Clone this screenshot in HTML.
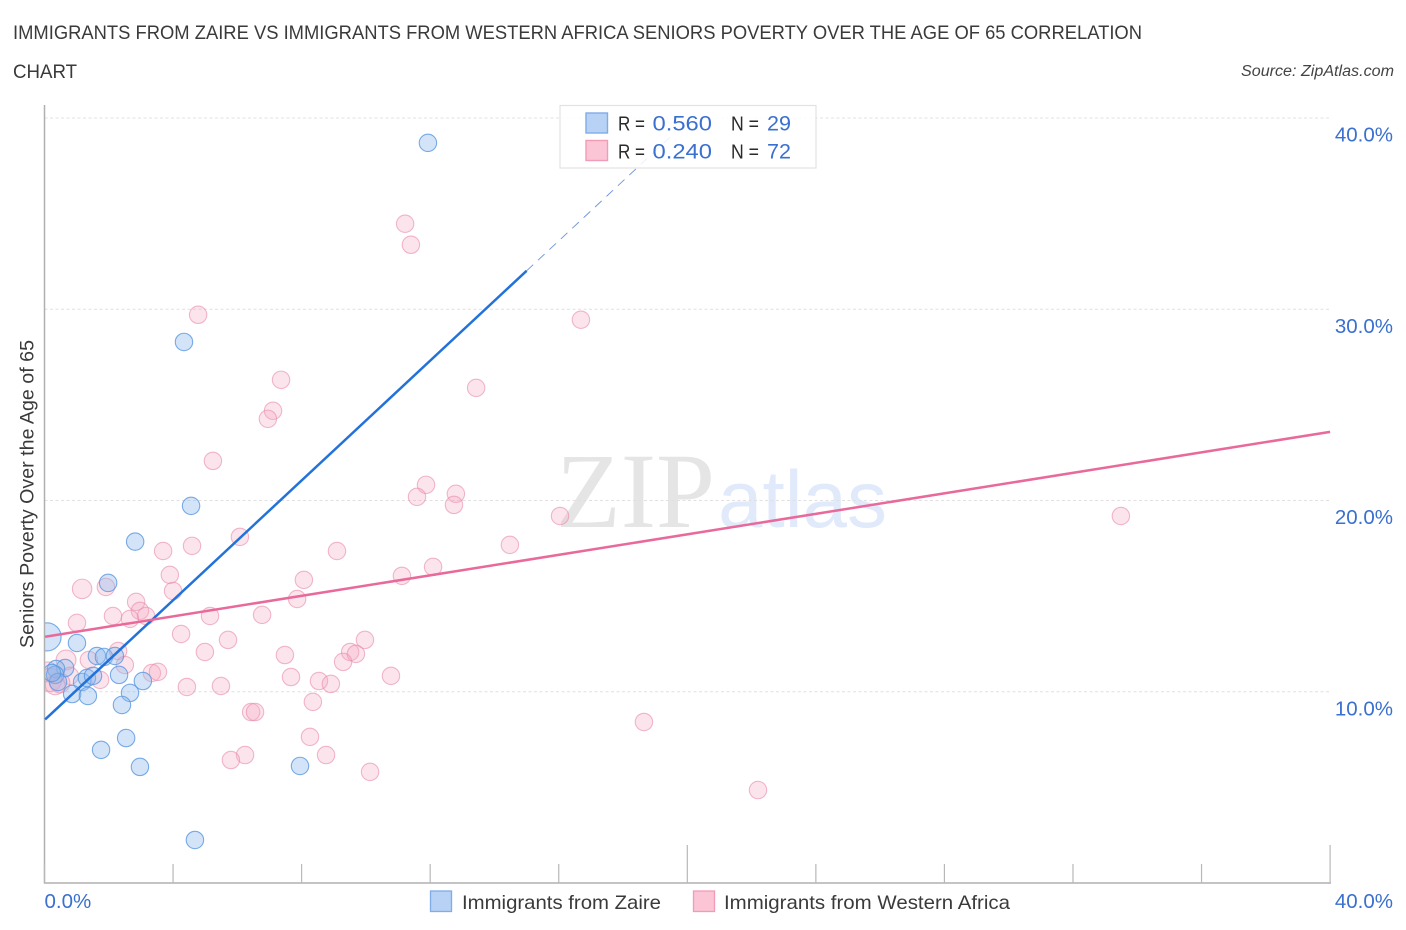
<!DOCTYPE html>
<html lang="en">
<head>
<meta charset="utf-8">
<title>Immigrants from Zaire vs Immigrants from Western Africa Seniors Poverty Correlation Chart</title>
<style>
html,body{margin:0;padding:0;background:#fff;width:1406px;height:930px;overflow:hidden}
svg{display:block;font-family:"Liberation Sans",sans-serif}
</style>
</head>
<body>
<svg id="chart" width="1406" height="930" viewBox="0 0 1406 930" xmlns="http://www.w3.org/2000/svg">
  <defs>
    <clipPath id="plot-clip"><rect x="44.5" y="100" width="1300" height="783"/></clipPath>
  </defs>
  <text x="13" y="39" font-size="19.5" fill="#3a3a3a" textLength="1129" lengthAdjust="spacingAndGlyphs">IMMIGRANTS FROM ZAIRE VS IMMIGRANTS FROM WESTERN AFRICA SENIORS POVERTY OVER THE AGE OF 65 CORRELATION</text>
  <text x="13" y="78" font-size="19.5" fill="#3a3a3a" textLength="64" lengthAdjust="spacingAndGlyphs">CHART</text>
  <text x="1241" y="76" font-size="15.5" font-style="italic" fill="#444" textLength="153" lengthAdjust="spacingAndGlyphs">Source: ZipAtlas.com</text>

  <g>
    <text x="556" y="527" font-family="'Liberation Serif',serif" font-size="107" fill="#e5e5e5" textLength="159" lengthAdjust="spacingAndGlyphs">ZIP</text>
    <text x="718" y="527" font-size="81" fill="#e0eafa" textLength="169" lengthAdjust="spacingAndGlyphs">atlas</text>
  </g>

  <g id="grid"></g>
  <g id="points-africa" clip-path="url(#plot-clip)"></g>
  <g id="points-zaire" clip-path="url(#plot-clip)"></g>
  <g id="axes"></g>
  <g id="trends"></g>

  <text transform="translate(33.5 494) rotate(-90)" font-size="19.5" fill="#3a3a3a" text-anchor="middle" textLength="308" lengthAdjust="spacingAndGlyphs">Seniors Poverty Over the Age of 65</text>

  <g>
    <rect x="560" y="105.5" width="256" height="62.5" fill="#fff" fill-opacity="0.86" stroke="#e2e2e2" stroke-width="1.2"/>
    <rect x="586" y="113" width="21.5" height="20" fill="#b7d2f5" stroke="#80ace8" stroke-width="1.4"/>
    <rect x="586" y="140.5" width="21.5" height="20" fill="#fcc5d6" stroke="#f29bb7" stroke-width="1.4"/>
    <text x="618" y="130.5" font-size="20.5" fill="#2a2a2a" textLength="27" lengthAdjust="spacingAndGlyphs">R =</text>
    <text x="652.5" y="130.5" font-size="21.5" fill="#3a70cf" textLength="59.5" lengthAdjust="spacingAndGlyphs">0.560</text>
    <text x="731" y="130.5" font-size="20.5" fill="#2a2a2a" textLength="28" lengthAdjust="spacingAndGlyphs">N =</text>
    <text x="767" y="130.5" font-size="21.5" fill="#3a70cf" textLength="24" lengthAdjust="spacingAndGlyphs">29</text>
    <text x="618" y="158.5" font-size="20.5" fill="#2a2a2a" textLength="27" lengthAdjust="spacingAndGlyphs">R =</text>
    <text x="652.5" y="158.5" font-size="21.5" fill="#3a70cf" textLength="59.5" lengthAdjust="spacingAndGlyphs">0.240</text>
    <text x="731" y="158.5" font-size="20.5" fill="#2a2a2a" textLength="28" lengthAdjust="spacingAndGlyphs">N =</text>
    <text x="767" y="158.5" font-size="21.5" fill="#3a70cf" textLength="24" lengthAdjust="spacingAndGlyphs">72</text>
  </g>

  <g>
    <g>
      <rect x="430.5" y="891" width="21" height="20.5" fill="#b7d2f5" stroke="#80ace8" stroke-width="1.3"/>
      <text x="462" y="909" font-size="19.5" fill="#3a3a3a" textLength="199" lengthAdjust="spacingAndGlyphs">Immigrants from Zaire</text>
    </g>
    <g>
      <rect x="693.5" y="891" width="21" height="20.5" fill="#fcc5d6" stroke="#f29bb7" stroke-width="1.3"/>
      <text x="724" y="909" font-size="19.5" fill="#3a3a3a" textLength="286" lengthAdjust="spacingAndGlyphs">Immigrants from Western Africa</text>
    </g>
  </g>
</svg>
<script>
// Chart data (percent values)
const zaireX = [11.93,4.34,4.56,2.82,1.98,1.01,0.08,1.63,1.85,2.19,0.64,0.36,0.33,0.42,1.17,1.32,1.51,2.32,3.06,2.66,2.41,0.86,1.35,2.54,1.76,2.97,7.95,4.68,0.23];
const zaireY = [38.70,28.29,19.72,17.85,15.69,12.55,12.87,11.87,11.82,11.87,11.24,11.19,10.88,10.51,10.51,10.72,10.83,10.88,10.56,9.94,9.31,9.88,9.78,7.58,6.96,6.07,6.12,2.25,10.98];
const zaireWeight = [1,1,1,1,1,1,2.6,1,1,1,1,1,1,1,1,1,1,1,1,1,1,1,1,1,1,1,1,1,1];
const africaX = [11.22,11.40,4.78,16.69,7.36,13.43,7.11,6.95,5.24,11.87,11.59,12.80,12.74,16.04,33.49,6.08,14.48,9.10,3.69,4.59,12.09,11.12,3.90,8.07,4.00,1.17,1.91,7.86,2.85,2.97,2.13,2.66,3.16,5.15,6.77,1.01,4.25,9.97,5.71,4.99,7.48,9.51,9.69,9.29,2.29,1.38,0.67,2.50,3.34,3.53,7.67,8.54,8.91,10.78,4.43,5.49,1.73,0.79,8.35,6.43,6.55,18.65,8.26,8.76,6.24,5.80,10.13,22.20,0.17,0.33,0.48,0.11];
const africaY = [34.47,33.37,29.71,29.45,26.31,25.89,24.69,24.27,22.07,20.82,20.19,20.35,19.77,19.19,19.19,18.10,17.68,17.36,17.36,17.63,16.53,16.06,16.11,15.85,15.27,15.38,15.48,14.85,14.70,14.23,13.96,13.81,13.96,13.96,14.02,13.60,13.02,12.71,12.71,12.08,11.92,12.08,11.98,11.56,12.13,11.66,11.66,11.40,10.98,11.04,10.77,10.56,10.41,10.83,10.25,10.30,10.62,10.83,9.47,8.94,8.94,8.42,7.64,6.69,6.69,6.43,5.81,4.86,10.62,10.36,10.46,11.04];
const africaWeight = [1,1,1,1,1,1,1,1,1,1,1,1,1,1,1,1,1,1,1,1,1,1,1,1,1,1.25,1,1,1,1,1,1,1,1,1,1,1,1,1,1,1,1,1,1,1,1,1.3,1,1,1,1,1,1,1,1,1,1,1,1,1,1,1,1,1,1,1,1,1,1.8,1.3,1.3,1.3];
const yTickValues = [10,20,30,40];
const yTickLabels = ["10.0%","20.0%","30.0%","40.0%"];
const xTickValues = [0,4,8,12,16,20,24,28,32,36,40];
const xEndValues = [0,40];
const xEndLabels = ["0.0%","40.0%"];
const zaireTrend = [8.52,1.566];
const zaireSolidEnd = [15];
const zaireDashEnd = [19.6];
const africaTrend = [12.87,0.268];
const africaTrendEnd = [40];

const NS = 'http://www.w3.org/2000/svg';
const xScale = v => 44.5 + v * 32.14;
const yScale = v => 883 - v * 19.125;
function make(parent, tag, props, text) {
  const el = document.createElementNS(NS, tag);
  for (const k in props) el.setAttribute(k, props[k]);
  if (text !== undefined) el.textContent = text;
  parent.appendChild(el);
  return el;
}
const grid = document.getElementById('grid');
const axes = document.getElementById('axes');

yTickValues.forEach((v, i) => {
  const line = make(grid, 'line', {x1: 44.5, x2: 1330, y1: yScale(v), y2: yScale(v), stroke: '#e0e0e0', 'stroke-width': 1, 'stroke-dasharray': '3 2.5'});
  
  
  const label = make(axes, 'text', {x: 1393, y: yScale(v) + 23.5, 'font-size': 20.5, fill: '#3a70cf', 'text-anchor': 'end'}, yTickLabels[i]);
  
  
});

const yAxis = make(axes, 'line', {x1: 44.5, x2: 44.5, y1: 105, y2: 883.5, stroke: '#b0b0b0', 'stroke-width': 1.5});


const xAxis = make(axes, 'line', {x1: 44, x2: 1331, y1: 883, y2: 883, stroke: '#b0b0b0', 'stroke-width': 1.5});



xTickValues.forEach((v, i) => {
  const major = i === 5 || i === 10;
  const tick = make(axes, 'line', {x1: xScale(v), x2: xScale(v), y1: major ? 845 : 864, y2: 883, stroke: '#b8b8b8', 'stroke-width': 1.2});
  
  
});
xEndValues.forEach((v, i) => {
  const label = make(axes, 'text', {x: i === 0 ? xScale(v) : 1393, y: 908, 'font-size': 20.5, fill: '#3a70cf', 'text-anchor': i === 0 ? 'start' : 'end'}, xEndLabels[i]);
  
  
});

const africaGroup = document.getElementById('points-africa');
africaX.forEach((v, i) => {
  const dot = make(africaGroup, 'circle', {cx: xScale(v), cy: yScale(africaY[i]), r: 8.7 * Math.sqrt(africaWeight[i]), fill: '#f6a6bf', 'fill-opacity': 0.3, stroke: '#e88aa9', 'stroke-opacity': 0.6, 'stroke-width': 1.1});
  
  
});
const zaireGroup = document.getElementById('points-zaire');
zaireX.forEach((v, i) => {
  const dot = make(zaireGroup, 'circle', {cx: xScale(v), cy: yScale(zaireY[i]), r: 8.7 * Math.sqrt(zaireWeight[i]), fill: '#8db8ec', 'fill-opacity': 0.38, stroke: '#5a97e0', 'stroke-opacity': 0.8, 'stroke-width': 1.1});
  
  
});

const trends = document.getElementById('trends');
const zaireAt = x => zaireTrend[0] + zaireTrend[1] * x;
const africaAt = x => africaTrend[0] + africaTrend[1] * x;
const zaireDash = make(trends, 'line', {x1: xScale(zaireSolidEnd[0]), y1: yScale(zaireAt(zaireSolidEnd[0])), x2: xScale(zaireDashEnd[0]), y2: yScale(zaireAt(zaireDashEnd[0])), stroke: '#6b93dc', 'stroke-width': 0.9, 'stroke-dasharray': '9 6.6'});


const zaireLine = make(trends, 'line', {x1: xScale(0.02), y1: yScale(zaireAt(0.02)), x2: xScale(zaireSolidEnd[0]), y2: yScale(zaireAt(zaireSolidEnd[0])), stroke: '#2272d9', 'stroke-width': 2.5});


const africaLine = make(trends, 'line', {x1: xScale(0.02), y1: yScale(africaAt(0.02)), x2: xScale(africaTrendEnd[0]), y2: yScale(africaAt(africaTrendEnd[0])), stroke: '#e8699a', 'stroke-width': 2.5});


</script>
</body>
</html>
